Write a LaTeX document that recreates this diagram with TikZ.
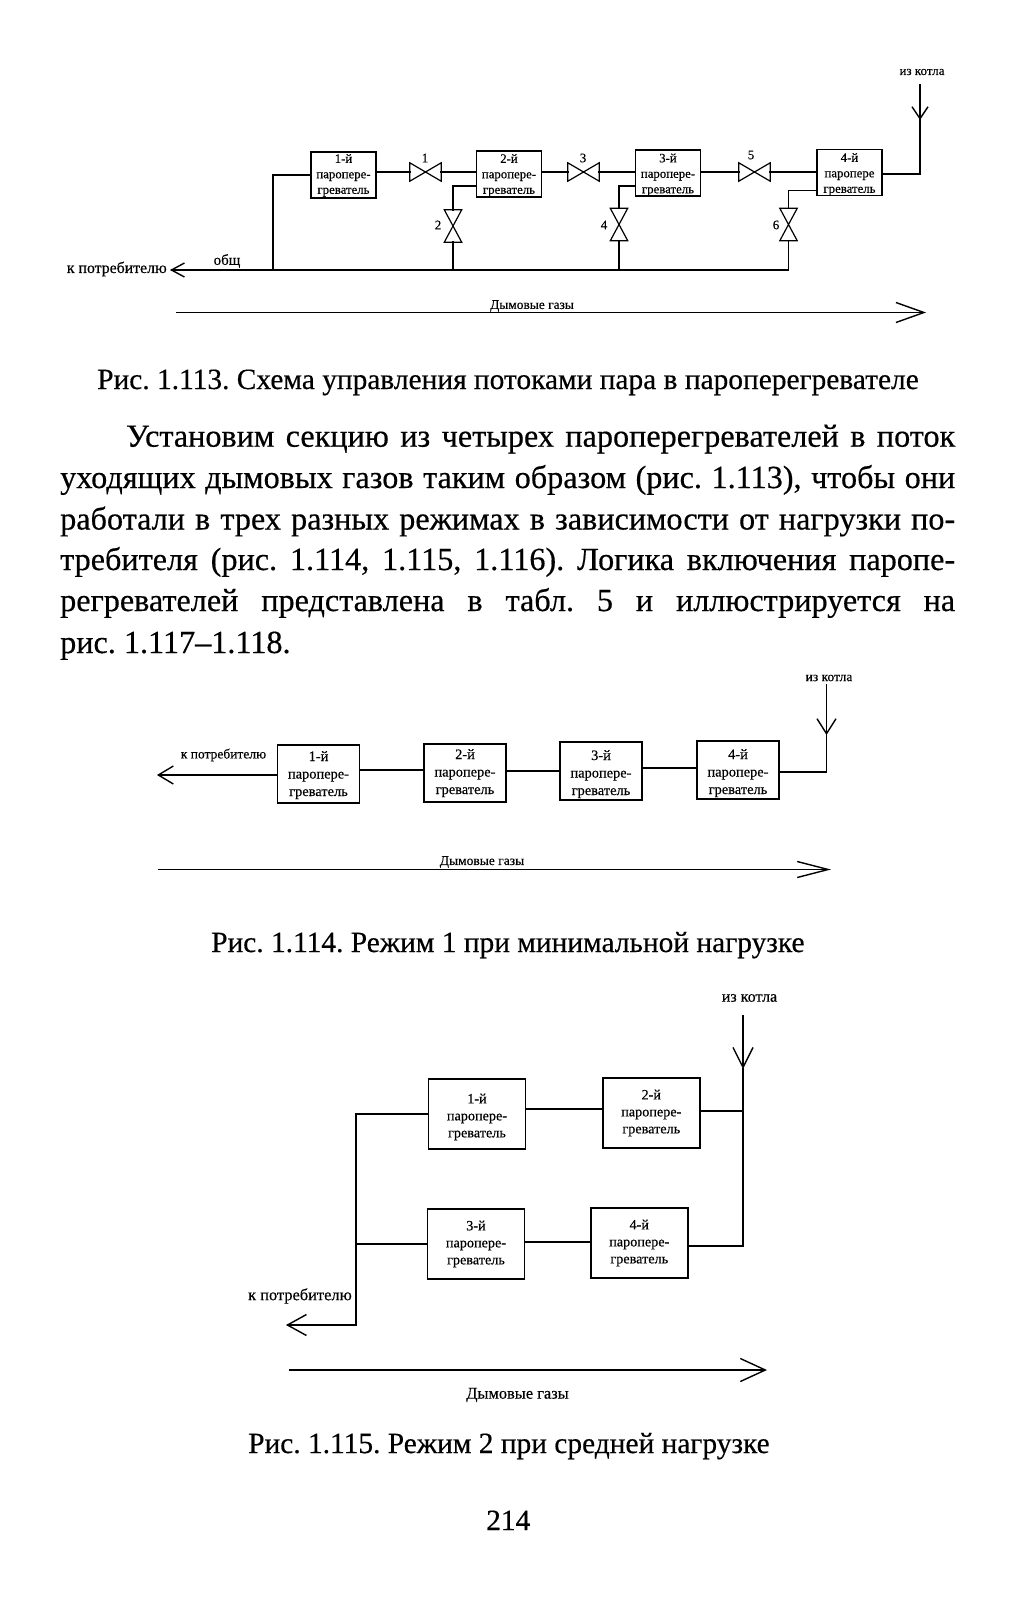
\documentclass[tikz,border=0pt]{standalone}
\usepackage{fontspec}
\setmainfont{Liberation Serif}
\newfontfamily\bodyfont[FakeBold=0.4]{Liberation Serif}
\usetikzlibrary{arrows.meta,calc}
\tikzset{
  wire/.style={line width=1.5pt,line cap=rect,line join=miter},
  valveline/.style={line width=1.2pt,line join=miter,fill=white},
  tipped/.style n args={2}{wire,-{Straight Barb[length=#1,width=#2,line width=1.4pt]}},
  heatbox/.style={draw,line width=1.4pt,inner sep=0pt,fill=white},
  smallbox/.style={heatbox,minimum width=65pt,minimum height=46pt,font=\bodyfont\fontsize{12.8}{15.5}\selectfont},
  midbox/.style={heatbox,minimum width=82pt,minimum height=58pt,font=\bodyfont\fontsize{14.4}{17.5}\selectfont},
  bigbox/.style={heatbox,minimum width=97pt,minimum height=70pt,font=\bodyfont\fontsize{14.2}{17}\selectfont},
  hv/.style={inner sep=0pt,minimum width=31pt,minimum height=18pt},
  vv/.style={inner sep=0pt,minimum width=17pt,minimum height=32pt},
  lbl/.style={inner sep=0pt,font=\bodyfont\fontsize{#1}{#1}\selectfont},
  lbl/.default=13,
  capt/.style={inner sep=0pt,anchor=base west,font=\frenchspacing\bodyfont\fontsize{29.4}{32}\selectfont},
  bodyl/.style={inner sep=0pt,anchor=base west,font=\frenchspacing\bodyfont\fontsize{32.2}{36}\selectfont},
}
\newcommand{\hvalve}[1]{\draw[valveline] (#1.south west) -- (#1.north east) -- (#1.south east) -- (#1.north west) -- cycle;}
\newcommand{\vvalve}[1]{\draw[valveline] (#1.south west) -- (#1.north east) -- (#1.north west) -- (#1.south east) -- cycle;}
\newcommand{\jline}[4]{\node[bodyl] (#1) at (#2) {\hbox to #3pt{#4}};}
% three centred lines, moved down by #1 pt inside a box of fixed size
\newcommand{\dn}[2]{\raisebox{\dimexpr-#1pt-0.25em\relax}[0pt][0pt]{\begin{tabular}{@{}c@{}}#2\end{tabular}}}
\begin{document}
\begin{tikzpicture}[x=1pt,y=-1pt]
\useasboundingbox (0,0) rectangle (1015,1600);
\fill[white] (0,0) rectangle (1015,1600);

% --- Fig 1.113
\node[smallbox] (a1) at (343.5,175) {\dn{0}{1-й\\паропере-\\греватель}};
\node[smallbox] (a2) at (509,174) {\dn{1}{2-й\\паропере-\\греватель}};
\node[smallbox] (a3) at (668,173) {\dn{1.5}{3-й\\паропере-\\греватель}};
\node[smallbox] (a4) at (849.5,172.5) {\dn{1.5}{4-й\\паропере\\греватель}};
\node[hv] (v1) at (425.5,172) {};
\node[hv] (v3) at (583.5,172) {};
\node[hv] (v5) at (754.5,172) {};
\node[vv] (v2) at (453,226) {};
\node[vv] (v4) at (619,224.5) {};
\node[vv] (v6) at (788.5,224.5) {};
\hvalve{v1}\hvalve{v3}\hvalve{v5}\vvalve{v2}\vvalve{v4}\vvalve{v6}
\node[lbl] (n1) at (425,158) {1};
\node[lbl] (n3) at (583,158) {3};
\node[lbl] (n5) at (751,155) {5};
\node[lbl] (n2) at (438,225) {2};
\node[lbl] (n4) at (604,225) {4};
\node[lbl] (n6) at (776,225) {6};
\coordinate (am) at (788.5,270);
\coordinate (at) at (170,270);
\coordinate (ajn) at (273,270);
\coordinate (ain) at (920,85);
\coordinate (aitip) at (920,120);
\coordinate (af1) at (177,312.5);
\coordinate (af2) at (926,312.5);
\draw[wire] (a1.east |- 0,172) -- (v1.west);
\draw[wire] (v1.east) -- (a2.west |- 0,172);
\draw[wire] (a2.east |- 0,172) -- (v3.west);
\draw[wire] (v3.east) -- (a3.west |- 0,172);
\draw[wire] (a3.east |- 0,172) -- (v5.west);
\draw[wire] (v5.east) -- (a4.west |- 0,172);
\draw[wire] (a2.west |- 0,186) -| (v2.north);
\draw[wire] (a3.west |- 0,186) -| (v4.north);
\draw[wire] (a4.west |- 0,190.5) -| (v6.north);
\draw[wire] (v2.south) -- (v2.south |- am);
\draw[wire] (v4.south) -- (v4.south |- am);
\draw[wire] (v6.south) -- (am);
\draw[wire] (a1.west |- 0,175) -| (ajn);
\draw[tipped={13pt}{14pt}] (am) -- (at);
\draw[tipped={12pt}{16pt}] (ain) -- (aitip);
\draw[wire] (aitip) |- (a4.east |- 0,174);
\draw[tipped={28pt}{20pt}] (af1) -- (af2);
\node[lbl=13] (a-iz) at (922,72) {из котла};
\node[lbl=15.8,anchor=east] (a-k) at (167,269) {к потребителю};
\node[lbl=15] (a-ob) at (227,261) {общ};
\node[lbl=13.4] (a-fl) at (532,306) {Дымовые газы};

\node[capt] (c113) at (97,389) {Рис. 1.113. Схема управления потоками пара в пароперегревателе};

% --- body text
\jline{l1}{126,446.7}{829}{Установим секцию из четырех пароперегревателей в поток}
\jline{l2}{60,488}{895}{уходящих дымовых газов таким образом (рис. 1.113), чтобы они}
\jline{l3}{60,529.5}{895}{работали в трех разных режимах в зависимости от нагрузки по-}
\jline{l4}{60,570}{895}{требителя (рис. 1.114, 1.115, 1.116). Логика включения паропе-}
\jline{l5}{60,611}{895}{регревателей представлена в табл. 5 и иллюстрируется на}
\node[bodyl] (l6) at (60,653) {рис. 1.117–1.118.};

% --- Fig 1.114
\node[midbox] (b1) at (318.5,774) {\dn{1}{1-й\\паропере-\\греватель}};
\node[midbox] (b2) at (465,773) {\dn{0}{2-й\\паропере-\\греватель}};
\node[midbox] (b3) at (601,771) {\dn{3}{3-й\\паропере-\\греватель}};
\node[midbox] (b4) at (738,770) {\dn{3}{4-й\\паропере-\\греватель}};
\coordinate (bt) at (157,775);
\coordinate (bin) at (826.5,685);
\coordinate (bitip) at (826.5,735);
\coordinate (bf1) at (159,869.5);
\coordinate (bf2) at (831,869.5);
\draw[tipped={15pt}{18pt}] (b1.west |- 0,775) -- (bt);
\draw[wire] (b1.east |- 0,770) -- (b2.west |- 0,770);
\draw[wire] (b2.east |- 0,771) -- (b3.west |- 0,771);
\draw[wire] (b3.east |- 0,768) -- (b4.west |- 0,768);
\draw[tipped={15pt}{19pt}] (bin) -- (bitip);
\draw[wire] (bitip) |- (b4.east |- 0,772);
\draw[tipped={31pt}{16pt}] (bf1) -- (bf2);
\node[lbl=13.5] (b-iz) at (829,678) {из котла};
\node[lbl=13.5] (b-k) at (223.5,755) {к потребителю};
\node[lbl=13.5] (b-fl) at (482,862) {Дымовые газы};

\node[capt] (c114) at (211,952) {Рис. 1.114. Режим 1 при минимальной нагрузке};

% --- Fig 1.115
\node[bigbox] (d1) at (477,1114) {\dn{3}{1-й\\паропере-\\греватель}};
\node[bigbox] (d2) at (651.3,1113) {\dn{0}{2-й\\паропере-\\греватель}};
\node[bigbox] (d3) at (476,1244) {\dn{0}{3-й\\паропере-\\греватель}};
\node[bigbox] (d4) at (639.3,1243) {\dn{0}{4-й\\паропере-\\греватель}};
\coordinate (dtr) at (356,1325);
\coordinate (dt) at (286,1325);
\coordinate (din) at (743,1016);
\coordinate (ditip) at (743,1069);
\coordinate (df1) at (290,1370);
\coordinate (df2) at (767,1370);
\draw[wire] (d1.west |- 0,1114) -| (dtr);
\draw[tipped={19pt}{21pt}] (dtr) -- (dt);
\draw[wire] (d3.west |- 0,1244) -- (dtr |- 0,1244);
\draw[wire] (d1.east |- 0,1109) -- (d2.west |- 0,1109);
\draw[wire] (d3.east |- 0,1242) -- (d4.west |- 0,1242);
\draw[wire] (d2.east |- 0,1111) -- (ditip |- 0,1111);
\draw[wire] (d4.east |- 0,1246) -| (ditip);
\draw[tipped={20pt}{20pt}] (din) -- (ditip);
\draw[tipped={25pt}{23pt}] (df1) -- (df2);
\node[lbl=16] (d-iz) at (749.5,998) {из котла};
\node[lbl=16.4] (d-k) at (300,1296) {к потребителю};
\node[lbl=16.4] (d-fl) at (517.5,1395) {Дымовые газы};

\node[capt] (c115) at (248,1453) {Рис. 1.115. Режим 2 при средней нагрузке};
\node[capt] (pg) at (486,1530) {214};
\end{tikzpicture}
\end{document}
